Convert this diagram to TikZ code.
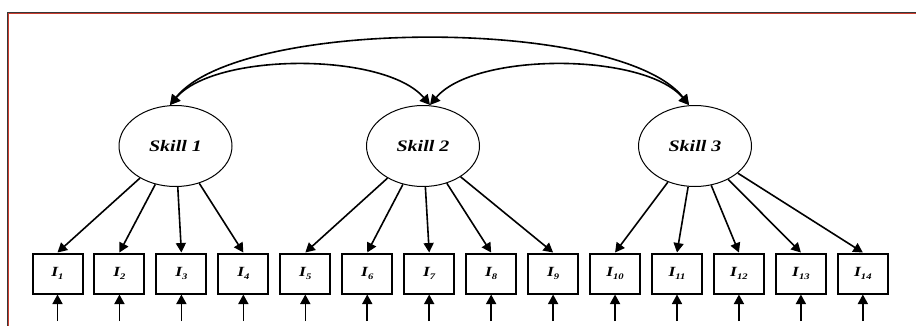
\documentclass[tikz,border=0pt]{standalone}
\usepackage{fontspec}
\setmainfont{Liberation Serif}
\usetikzlibrary{arrows.meta,shapes.geometric}

\newcommand{\itemlab}[1]{\scalebox{1.25}[1]{\bfseries\itshape I\raisebox{-2.8pt}{\fontsize{8.5}{8.5}\selectfont #1}}}
\newcommand{\skilllab}[1]{\scalebox{1.25}[1]{\bfseries\itshape Skill #1}}

\tikzset{
  latent/.style={ellipse, draw, line width=1pt, minimum width=113pt, minimum height=81pt, inner sep=0pt, font=\fontsize{16}{16}\selectfont},
  observed/.style={rectangle, draw, line width=2pt, minimum width=50pt, minimum height=40pt, inner sep=0pt, font=\fontsize{14}{14}\selectfont},
  load/.style={line width=1.6pt, -{Triangle[length=9.5pt,width=10pt]}},
  cov/.style={line width=1.6pt, {Triangle[length=10pt,width=10.5pt]}-{Triangle[length=10pt,width=10.5pt]}},
  err/.style={line width=1.6pt, -{Triangle[length=9.5pt,width=10pt]}}
}

\begin{document}
\begin{tikzpicture}[x=1pt,y=-1pt]
\useasboundingbox (0,0) rectangle (916,325);
\fill[white] (0,0) rectangle (916,325);

% frame lines (dark outer rule, red inner rule)
\draw[line width=1.3pt, color={rgb,255:red,55;green,55;blue,55}] (7.2,326) -- (7.2,12.2) -- (917,12.2);
\draw[line width=1pt, color={rgb,255:red,200;green,60;blue,45}] (8.6,326) -- (8.6,13.6) -- (917,13.6);

% latent skills
\node[latent] (s1) at (175.5,146) {\skilllab{1}};
\node[latent] (s2) at (423,146) {\skilllab{2}};
\node[latent] (s3) at (695,146) {\skilllab{3}};

% indicator items and their error terms
\foreach \i in {1,...,14} {
  \pgfmathsetmacro{\xc}{57.5+61.95*(\i-1)}
  \node[observed] (i\i) at (\xc,273.5) {\itemlab{\i}};
  \coordinate (e\i) at (\xc,321);
  \draw[err] (e\i) -- (i\i.south);
}

% loadings
\foreach \i in {1,...,4} { \draw[load] (s1) -- (i\i.north); }
\foreach \i in {5,...,9} { \draw[load] (s2) -- (i\i.north); }
\foreach \i in {10,...,14} { \draw[load] (s3) -- (i\i.north); }

% covariances between skills
\coordinate (t1) at (170,105);
\coordinate (t2) at (430,105);
\coordinate (t3) at (689,105);
\draw[cov] (t1) .. controls (240,17) and (620,17) .. (t3);
\draw[cov] (t1) .. controls (215,52) and (385,52) .. (t2);
\draw[cov] (t2) .. controls (474,52) and (644,52) .. (t3);
\end{tikzpicture}
\end{document}
